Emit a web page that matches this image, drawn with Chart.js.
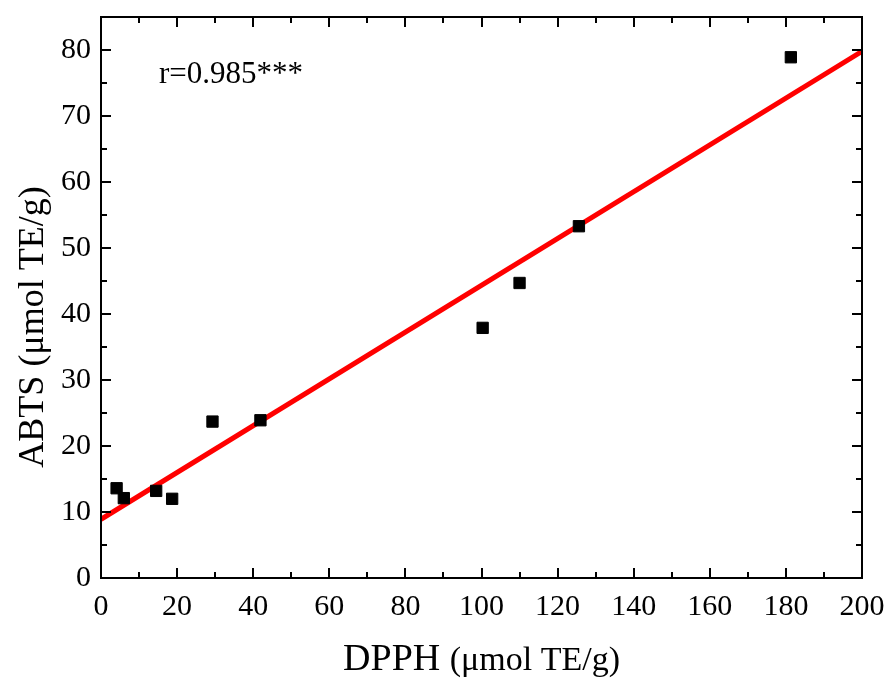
<!DOCTYPE html>
<html>
<head>
<meta charset="utf-8">
<script src="https://cdn.jsdelivr.net/npm/chart.js@4.4.1/dist/chart.umd.min.js"></script>
<style>
  html, body { margin: 0; padding: 0; background: #fff; }
  #wrap { width: 890px; height: 682px; }
</style>
</head>
<body>
<div id="wrap"><canvas id="chart" width="890" height="682"></canvas></div>
<script>
// DPPH vs ABTS values
const dpph = [4.1, 6.0, 14.5, 18.7, 29.3, 41.9, 100.3, 110.0, 125.6, 181.3];
const abts = [13.6, 12.1, 13.2, 12.0, 23.7, 23.9, 37.9, 44.7, 53.3, 78.9];

// fitted line end points
const fitX = [0, 200];
const fitY = [8.9, 79.8];

const xTicks = [0, 20, 40, 60, 80, 100, 120, 140, 160, 180, 200];
const yTicks = [0, 10, 20, 30, 40, 50, 60, 70, 80];

const corrLabel = 'r=0.985***';
const xTitleMain = 'DPPH';
const xTitleUnit = '(\u03bcmol TE/g)';
const yTitle = 'ABTS (\u03bcmol TE/g)';

const serif = '"Liberation Serif", "Times New Roman", serif';

// frame, inward ticks and text
const framePlugin = {
    id: 'frame',
    afterDraw(chart) {
        const ctx = chart.ctx;
        const a = chart.chartArea;
        const xs = chart.scales.x;
        const ys = chart.scales.y;
        ctx.save();
        ctx.strokeStyle = '#000';
        ctx.lineWidth = 2;
        ctx.strokeRect(a.left, a.top, a.right - a.left, a.bottom - a.top);

        ctx.beginPath();
        for (let v = 0; v <= 200; v += 10) {
            const px = Math.round(xs.getPixelForValue(v));
            const len = v % 20 === 0 ? 10 : 6;
            ctx.moveTo(px, a.bottom); ctx.lineTo(px, a.bottom - len);
            ctx.moveTo(px, a.top); ctx.lineTo(px, a.top + len);
        }
        for (let v = 0; v <= 85; v += 5) {
            const py = Math.round(ys.getPixelForValue(v));
            const len = v % 10 === 0 ? 10 : 6;
            ctx.moveTo(a.left, py); ctx.lineTo(a.left + len, py);
            ctx.moveTo(a.right, py); ctx.lineTo(a.right - len, py);
        }
        ctx.stroke();

        ctx.fillStyle = '#000';
        ctx.textBaseline = 'alphabetic';
        ctx.font = '31px ' + serif;
        ctx.textAlign = 'left';
        ctx.fillText(corrLabel, 159, 83);

        // x title, two sizes
        ctx.font = '38px ' + serif;
        const w1 = ctx.measureText(xTitleMain + ' ').width;
        ctx.font = '34px ' + serif;
        const w2 = ctx.measureText(xTitleUnit).width;
        let sx = (a.left + a.right) / 2 - (w1 + w2) / 2;
        ctx.font = '38px ' + serif;
        ctx.fillText(xTitleMain + ' ', sx, 670);
        ctx.font = '34px ' + serif;
        ctx.fillText(xTitleUnit, sx + w1, 670);

        ctx.translate(43, 327);
        ctx.rotate(-Math.PI / 2);
        ctx.textAlign = 'center';
        ctx.font = '36px ' + serif;
        ctx.fillText(yTitle, 0, 0);
        ctx.restore();
    }
};

new Chart(document.getElementById('chart'), {
    type: 'scatter',
    data: {
        datasets: [
            {
                label: 'fit',
                type: 'line',
                data: fitX.map((x, i) => ({ x: x, y: fitY[i] })),
                borderColor: '#ff0000',
                borderWidth: 5,
                pointRadius: 0,
                fill: false,
                order: 1
            },
            {
                label: 'samples',
                data: dpph.map((x, i) => ({ x: x, y: abts[i] })),
                pointStyle: 'rect',
                pointRadius: 8,
                backgroundColor: '#000',
                borderColor: '#000',
                borderWidth: 1,
                order: 0
            }
        ]
    },
    options: {
        responsive: false,
        animation: false,
        events: [],
        layout: { padding: { left: 0, top: 17, right: 28, bottom: 0 } },
        plugins: { legend: { display: false }, tooltip: { enabled: false } },
        scales: {
            x: {
                type: 'linear',
                min: 0,
                max: 200,
                afterFit: (s) => { s.height = 104; s.paddingLeft = 0; s.paddingRight = 0; },
                afterBuildTicks: (s) => { s.ticks = xTicks.map(v => ({ value: v })); },
                grid: { display: false },
                border: { display: false },
                ticks: { color: '#000', padding: 3, maxRotation: 0, font: { family: serif, size: 30 } }
            },
            y: {
                type: 'linear',
                min: 0,
                max: 85,
                afterFit: (s) => { s.width = 101; s.paddingTop = 0; s.paddingBottom = 0; },
                afterBuildTicks: (s) => { s.ticks = yTicks.map(v => ({ value: v })); },
                grid: { display: false },
                border: { display: false },
                ticks: { color: '#000', padding: 2, font: { family: serif, size: 30 } }
            }
        }
    },
    plugins: [framePlugin]
});
</script>
</body>
</html>
